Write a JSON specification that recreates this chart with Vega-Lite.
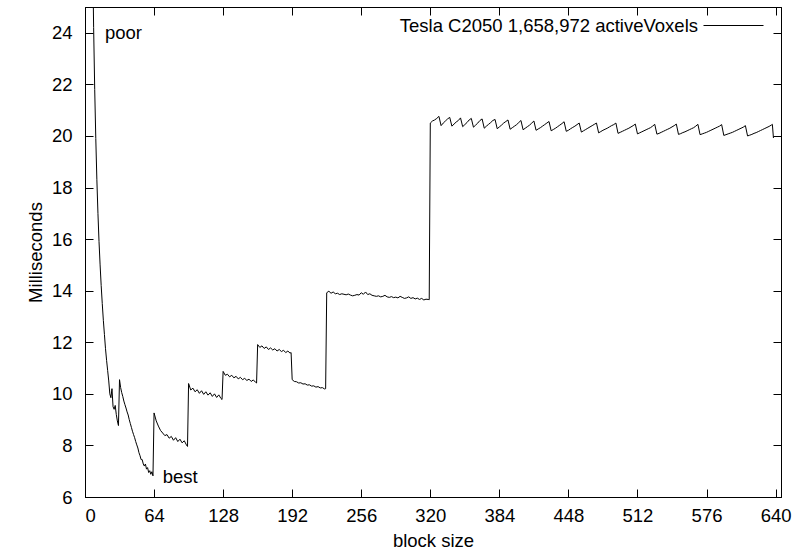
{
  "$schema": "https://vega.github.io/schema/vega-lite/v6.json",
  "width": 696,
  "height": 490,
  "autosize": {"type": "none"},
  "padding": {"left": 85, "top": 7, "right": 13, "bottom": 59},
  "background": "white",
  "config": {
    "font": "Liberation Sans",
    "view": {"stroke": "black", "strokeWidth": 1},
    "axis": {
      "grid": false,
      "domainColor": "black",
      "domainWidth": 1,
      "tickColor": "black",
      "tickWidth": 1,
      "tickSize": -8,
      "labelColor": "black",
      "titleColor": "black",
      "labelFont": "Liberation Sans",
      "titleFont": "Liberation Sans",
      "labelFontSize": 18.5,
      "titleFontSize": 18.5,
      "titleFontWeight": "normal"
    }
  },
  "resolve": {"axis": {"x": "independent", "y": "independent"}},
  "layer": [
    {
      "data": {
        "values": [
          {"block":6,"ms":31.3},{"block":7,"ms":27.2},{"block":8,"ms":24.2},{"block":9,"ms":21.8},{"block":10,"ms":19.9},
          {"block":11,"ms":18.3},{"block":12,"ms":17.0},{"block":13,"ms":15.9},{"block":14,"ms":15.0},{"block":15,"ms":14.2},
          {"block":16,"ms":13.5},{"block":17,"ms":12.85},{"block":18,"ms":12.3},{"block":19,"ms":11.75},{"block":20,"ms":11.3},
          {"block":21,"ms":10.9},{"block":22,"ms":10.5},{"block":23,"ms":10.0},{"block":24,"ms":9.85},{"block":25,"ms":10.2},
          {"block":26,"ms":9.5},{"block":27,"ms":9.4},{"block":28,"ms":9.55},{"block":29,"ms":9.2},{"block":30,"ms":8.95},
          {"block":31,"ms":8.77},
          {"block":32,"ms":10.55},{"block":33,"ms":10.25},{"block":34,"ms":10.05},{"block":35,"ms":9.9},{"block":36,"ms":9.72},
          {"block":37,"ms":9.58},{"block":38,"ms":9.45},{"block":39,"ms":9.3},{"block":40,"ms":9.18},{"block":41,"ms":9.0},
          {"block":42,"ms":8.85},{"block":43,"ms":8.7},{"block":44,"ms":8.55},{"block":45,"ms":8.42},{"block":46,"ms":8.3},
          {"block":47,"ms":8.15},{"block":48,"ms":8.02},{"block":49,"ms":7.9},{"block":50,"ms":7.72},{"block":51,"ms":7.6},
          {"block":52,"ms":7.45},{"block":53,"ms":7.45},{"block":54,"ms":7.28},{"block":55,"ms":7.2},{"block":56,"ms":7.28},
          {"block":57,"ms":7.08},{"block":58,"ms":7.14},{"block":59,"ms":6.95},{"block":60,"ms":7.02},{"block":61,"ms":6.88},
          {"block":62,"ms":6.98},{"block":63,"ms":6.82},
          {"block":64,"ms":9.26},{"block":66,"ms":8.95},{"block":68,"ms":8.75},{"block":70,"ms":8.58},{"block":72,"ms":8.48},
          {"block":74,"ms":8.38},{"block":76,"ms":8.42},{"block":78,"ms":8.28},{"block":80,"ms":8.35},{"block":82,"ms":8.2},
          {"block":84,"ms":8.3},{"block":86,"ms":8.15},{"block":88,"ms":8.24},{"block":90,"ms":8.1},{"block":92,"ms":8.18},
          {"block":94,"ms":8.02},{"block":95,"ms":7.96},
          {"block":96,"ms":10.4},{"block":98,"ms":10.15},{"block":100,"ms":10.22},{"block":102,"ms":10.08},{"block":104,"ms":10.16},
          {"block":106,"ms":10.02},{"block":108,"ms":10.12},{"block":110,"ms":9.98},{"block":112,"ms":10.08},{"block":114,"ms":9.95},
          {"block":116,"ms":10.04},{"block":118,"ms":9.9},{"block":120,"ms":10.0},{"block":122,"ms":9.86},{"block":124,"ms":9.96},
          {"block":126,"ms":9.82},{"block":127,"ms":9.78},
          {"block":128,"ms":10.87},{"block":130,"ms":10.72},{"block":132,"ms":10.76},{"block":134,"ms":10.66},{"block":136,"ms":10.72},
          {"block":138,"ms":10.62},{"block":140,"ms":10.68},{"block":142,"ms":10.58},{"block":144,"ms":10.64},{"block":146,"ms":10.55},
          {"block":148,"ms":10.6},{"block":150,"ms":10.52},{"block":152,"ms":10.57},{"block":154,"ms":10.48},{"block":156,"ms":10.54},
          {"block":158,"ms":10.45},{"block":159,"ms":10.42},
          {"block":160,"ms":11.91},{"block":162,"ms":11.8},{"block":164,"ms":11.86},{"block":166,"ms":11.76},{"block":168,"ms":11.82},
          {"block":170,"ms":11.72},{"block":172,"ms":11.78},{"block":174,"ms":11.7},{"block":176,"ms":11.75},{"block":178,"ms":11.66},
          {"block":180,"ms":11.72},{"block":182,"ms":11.64},{"block":184,"ms":11.69},{"block":186,"ms":11.6},{"block":188,"ms":11.66},
          {"block":190,"ms":11.58},{"block":191,"ms":11.6},
          {"block":192,"ms":10.55},{"block":194,"ms":10.48},{"block":196,"ms":10.47},{"block":198,"ms":10.42},{"block":200,"ms":10.43},
          {"block":202,"ms":10.38},{"block":204,"ms":10.39},{"block":206,"ms":10.34},{"block":208,"ms":10.35},{"block":210,"ms":10.3},
          {"block":212,"ms":10.31},{"block":214,"ms":10.26},{"block":216,"ms":10.28},{"block":218,"ms":10.23},{"block":220,"ms":10.24},
          {"block":222,"ms":10.19},{"block":223,"ms":10.2},
          {"block":224,"ms":13.92},{"block":226,"ms":13.98},{"block":228,"ms":13.9},{"block":230,"ms":13.95},{"block":232,"ms":13.88},
          {"block":234,"ms":13.9},{"block":236,"ms":13.85},{"block":238,"ms":13.88},{"block":240,"ms":13.86},{"block":242,"ms":13.84},
          {"block":244,"ms":13.87},{"block":246,"ms":13.83},{"block":248,"ms":13.8},{"block":250,"ms":13.82},{"block":252,"ms":13.85},
          {"block":254,"ms":13.83},{"block":256,"ms":13.92},{"block":258,"ms":13.86},{"block":260,"ms":13.95},{"block":262,"ms":13.85},
          {"block":264,"ms":13.88},{"block":266,"ms":13.82},{"block":268,"ms":13.8},{"block":270,"ms":13.78},{"block":272,"ms":13.8},
          {"block":274,"ms":13.76},{"block":276,"ms":13.78},{"block":278,"ms":13.82},{"block":280,"ms":13.76},{"block":282,"ms":13.74},
          {"block":284,"ms":13.77},{"block":286,"ms":13.73},{"block":288,"ms":13.75},{"block":290,"ms":13.72},{"block":292,"ms":13.78},
          {"block":294,"ms":13.74},{"block":296,"ms":13.7},{"block":298,"ms":13.72},{"block":300,"ms":13.76},{"block":302,"ms":13.7},
          {"block":304,"ms":13.73},{"block":306,"ms":13.68},{"block":308,"ms":13.71},{"block":310,"ms":13.66},{"block":312,"ms":13.7},
          {"block":314,"ms":13.64},{"block":316,"ms":13.67},{"block":318,"ms":13.66},{"block":319,"ms":13.65},
          {"block":320,"ms":20.5},{"block":322,"ms":20.58},{"block":324,"ms":20.62},{"block":326,"ms":20.68},{"block":328,"ms":20.76},
          {"block":330,"ms":20.4},{"block":332,"ms":20.5},{"block":334,"ms":20.58},{"block":336,"ms":20.66},{"block":338,"ms":20.72},
          {"block":340,"ms":20.38},{"block":342,"ms":20.46},{"block":344,"ms":20.54},{"block":346,"ms":20.6},{"block":348,"ms":20.7},
          {"block":350,"ms":20.36},{"block":352,"ms":20.44},{"block":354,"ms":20.52},{"block":356,"ms":20.62},{"block":358,"ms":20.68},
          {"block":360,"ms":20.34},{"block":362,"ms":20.42},{"block":364,"ms":20.5},{"block":366,"ms":20.6},{"block":368,"ms":20.66},
          {"block":370,"ms":20.3},{"block":372,"ms":20.38},{"block":374,"ms":20.45},{"block":376,"ms":20.52},{"block":378,"ms":20.6},
          {"block":380,"ms":20.64},{"block":382,"ms":20.28},{"block":384,"ms":20.35},{"block":386,"ms":20.42},{"block":388,"ms":20.5},
          {"block":390,"ms":20.56},{"block":392,"ms":20.62},{"block":394,"ms":20.26},{"block":396,"ms":20.32},{"block":398,"ms":20.38},
          {"block":400,"ms":20.44},{"block":402,"ms":20.52},{"block":404,"ms":20.6},{"block":406,"ms":20.24},{"block":408,"ms":20.3},
          {"block":410,"ms":20.36},{"block":412,"ms":20.42},{"block":414,"ms":20.5},{"block":416,"ms":20.58},{"block":418,"ms":20.22},
          {"block":420,"ms":20.27},{"block":422,"ms":20.32},{"block":424,"ms":20.38},{"block":426,"ms":20.44},{"block":428,"ms":20.5},
          {"block":430,"ms":20.56},{"block":432,"ms":20.2},{"block":434,"ms":20.25},{"block":436,"ms":20.3},{"block":438,"ms":20.36},
          {"block":440,"ms":20.42},{"block":442,"ms":20.48},{"block":444,"ms":20.55},{"block":446,"ms":20.18},{"block":448,"ms":20.22},
          {"block":450,"ms":20.28},{"block":452,"ms":20.33},{"block":454,"ms":20.38},{"block":456,"ms":20.44},{"block":458,"ms":20.5},
          {"block":460,"ms":20.15},{"block":462,"ms":20.2},{"block":464,"ms":20.25},{"block":466,"ms":20.3},{"block":468,"ms":20.35},
          {"block":470,"ms":20.4},{"block":472,"ms":20.45},{"block":474,"ms":20.5},{"block":476,"ms":20.12},{"block":478,"ms":20.17},
          {"block":480,"ms":20.22},{"block":482,"ms":20.26},{"block":484,"ms":20.3},{"block":486,"ms":20.35},{"block":488,"ms":20.4},
          {"block":490,"ms":20.44},{"block":492,"ms":20.5},{"block":494,"ms":20.1},{"block":496,"ms":20.14},{"block":498,"ms":20.18},
          {"block":500,"ms":20.22},{"block":502,"ms":20.26},{"block":504,"ms":20.3},{"block":506,"ms":20.35},{"block":508,"ms":20.4},
          {"block":510,"ms":20.46},{"block":512,"ms":20.08},{"block":514,"ms":20.12},{"block":516,"ms":20.16},{"block":518,"ms":20.2},
          {"block":520,"ms":20.24},{"block":522,"ms":20.28},{"block":524,"ms":20.32},{"block":526,"ms":20.38},{"block":528,"ms":20.45},
          {"block":530,"ms":20.07},{"block":532,"ms":20.1},{"block":534,"ms":20.14},{"block":536,"ms":20.18},{"block":538,"ms":20.22},
          {"block":540,"ms":20.26},{"block":542,"ms":20.3},{"block":544,"ms":20.35},{"block":546,"ms":20.4},{"block":548,"ms":20.46},
          {"block":550,"ms":20.06},{"block":552,"ms":20.09},{"block":554,"ms":20.13},{"block":556,"ms":20.16},{"block":558,"ms":20.2},
          {"block":560,"ms":20.24},{"block":562,"ms":20.28},{"block":564,"ms":20.32},{"block":566,"ms":20.38},{"block":568,"ms":20.45},
          {"block":570,"ms":20.05},{"block":572,"ms":20.08},{"block":574,"ms":20.11},{"block":576,"ms":20.14},{"block":578,"ms":20.18},
          {"block":580,"ms":20.22},{"block":582,"ms":20.26},{"block":584,"ms":20.3},{"block":586,"ms":20.34},{"block":588,"ms":20.38},
          {"block":590,"ms":20.44},{"block":592,"ms":20.02},{"block":594,"ms":20.05},{"block":596,"ms":20.08},{"block":598,"ms":20.11},
          {"block":600,"ms":20.14},{"block":602,"ms":20.18},{"block":604,"ms":20.22},{"block":606,"ms":20.26},{"block":608,"ms":20.3},
          {"block":610,"ms":20.34},{"block":612,"ms":20.4},{"block":614,"ms":20.0},{"block":616,"ms":20.03},{"block":618,"ms":20.06},
          {"block":620,"ms":20.1},{"block":622,"ms":20.13},{"block":624,"ms":20.17},{"block":626,"ms":20.21},{"block":628,"ms":20.25},
          {"block":630,"ms":20.29},{"block":632,"ms":20.33},{"block":634,"ms":20.37},{"block":636,"ms":20.42},{"block":637,"ms":20.45},
          {"block":638,"ms":19.92}
        ]
      },
      "mark": {"type": "line", "clip": true, "strokeWidth": 1, "interpolate": "linear"},
      "encoding": {
        "x": {
          "field": "block", "type": "quantitative",
          "scale": {"domain": [0, 645], "nice": false, "zero": false},
          "axis": {"orient": "bottom", "values": [0,64,128,192,256,320,384,448,512,576,640], "title": "block size", "labelPadding": 17, "titlePadding": 7}
        },
        "y": {
          "field": "ms", "type": "quantitative",
          "scale": {"domain": [6, 25], "nice": false, "zero": false},
          "axis": {"orient": "left", "values": [6,8,10,12,14,16,18,20,22,24], "title": "Milliseconds", "labelPadding": 21, "titlePadding": 6}
        },
        "color": {
          "datum": "Tesla C2050 1,658,972 activeVoxels",
          "type": "nominal",
          "scale": {"range": ["black"]},
          "legend": {
            "orient": "none", "legendX": 618, "legendY": -12, "title": null, "padding": 0,
            "symbolType": "stroke", "symbolSize": 3600, "symbolStrokeWidth": 1, "symbolStrokeColor": "black",
            "labelAlign": "right", "labelOffset": -66, "labelFontSize": 18.5, "labelFont": "Liberation Sans",
            "labelColor": "black", "labelLimit": 600
          }
        }
      }
    },
    {
      "data": {
        "values": [
          {"block": 18.5, "ms": 24, "label": "poor"},
          {"block": 72, "ms": 6.77, "label": "best"}
        ]
      },
      "mark": {"type": "text", "align": "left", "baseline": "middle", "font": "Liberation Sans", "fontSize": 18.5, "color": "black"},
      "encoding": {
        "x": {"field": "block", "type": "quantitative", "axis": {"orient": "top", "values": [0,64,128,192,256,320,384,448,512,576,640], "labels": false, "title": null}},
        "y": {"field": "ms", "type": "quantitative", "axis": {"orient": "right", "values": [6,8,10,12,14,16,18,20,22,24], "labels": false, "title": null}},
        "text": {"field": "label"}
      }
    }
  ]
}
